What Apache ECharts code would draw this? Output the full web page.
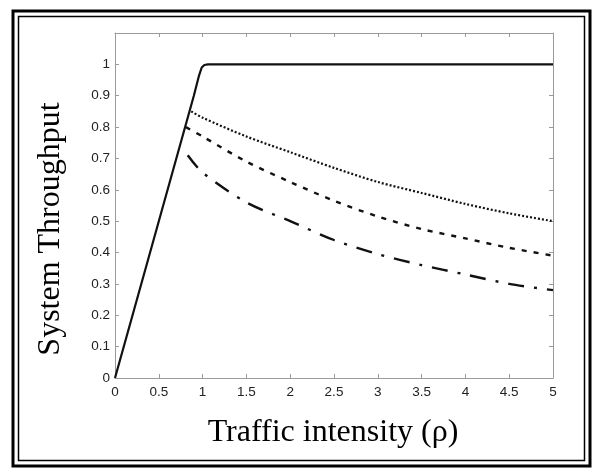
<!DOCTYPE html>
<html>
<head>
<meta charset="utf-8">
<script src="https://cdn.jsdelivr.net/npm/echarts@6/dist/echarts.min.js"></script>
<style>
  html, body { margin: 0; padding: 0; background: #fff; }
  #chart { width: 594px; height: 469px; }
</style>
</head>
<body>
<div id="chart"></div>
<script>
// values
const xTicks = [0, 0.5, 1, 1.5, 2, 2.5, 3, 3.5, 4, 4.5, 5];
const yTicks = [0, 0.1, 0.2, 0.3, 0.4, 0.5, 0.6, 0.7, 0.8, 0.9, 1];

const rhoSolid = [0, 0.5, 0.9, 0.96, 0.99, 1.02, 1.06, 2, 3, 4, 5];
const thrSolid = [0, 0.5, 0.9, 0.965, 0.99, 0.998, 1.0, 1.0, 1.0, 1.0, 1.0];

const rhoDotted = [0.87, 1, 1.5, 2, 2.5, 3, 3.5, 4, 4.5, 5];
const thrDotted = [0.85, 0.83, 0.77, 0.72, 0.67, 0.625, 0.59, 0.555, 0.525, 0.5];

const rhoDashed = [0.81, 1, 1.5, 2, 2.5, 3, 3.5, 4, 4.5, 5];
const thrDashed = [0.80, 0.77, 0.69, 0.625, 0.565, 0.515, 0.475, 0.445, 0.415, 0.39];

const rhoDashDot = [0.83, 1, 1.5, 2, 2.5, 3, 3.5, 4, 4.5, 5];
const thrDashDot = [0.71, 0.655, 0.56, 0.5, 0.44, 0.395, 0.36, 0.33, 0.3, 0.28];

const zip = (xs, ys) => xs.map((x, i) => [x, ys[i]]);

const chart = echarts.init(document.getElementById('chart'), null, { renderer: 'canvas' });

const tickFont = { color: '#222', fontSize: 13.5, fontFamily: 'Liberation Sans, Arial, sans-serif' };
const axisGray = '#9a9a9a';
const serif = '32px "Liberation Serif", "Times New Roman", serif';

const boxAxis = (extra) => Object.assign({
  type: 'value',
  axisLine: { show: true, onZero: false, lineStyle: { color: axisGray, width: 1 } },
  axisTick: { show: true, inside: true, length: 4, lineStyle: { color: axisGray } },
  splitLine: { show: false },
}, extra);

const curve = (data, type, width, smooth) => ({
  type: 'line',
  data: data,
  showSymbol: false,
  smooth: smooth,
  lineStyle: { color: '#111', width: width, type: type },
  silent: true,
  animation: false,
});

chart.setOption({
  backgroundColor: '#fff',
  animation: false,
  grid: { left: 115, right: 41, top: 33, bottom: 91 },
  xAxis: [
    boxAxis({
      min: 0, max: 5, interval: 0.5,
      axisLabel: Object.assign({ margin: 7, formatter: (v) => String(v) }, tickFont),
    }),
    boxAxis({ min: 0, max: 5, interval: 0.5, position: 'top', axisLabel: { show: false } }),
  ],
  yAxis: [
    boxAxis({
      min: 0, max: 1.1, interval: 0.1,
      axisLabel: Object.assign({
        margin: 5,
        formatter: (v) => (v > 1.001 ? '' : String(Math.round(v * 10) / 10)),
      }, tickFont),
    }),
    boxAxis({ min: 0, max: 1.1, interval: 0.1, position: 'right', axisLabel: { show: false } }),
  ],
  graphic: [
    { type: 'rect', shape: { x: 13, y: 11, width: 577, height: 455 },
      style: { fill: 'none', stroke: '#000', lineWidth: 3 } },
    { type: 'rect', shape: { x: 18.5, y: 16.5, width: 566, height: 444 },
      style: { fill: 'none', stroke: '#000', lineWidth: 1.5 } },
    { type: 'text', x: 51, y: 229, rotation: Math.PI / 2,
      style: { text: 'System Throughput', fill: '#000', font: serif,
               textAlign: 'center', textVerticalAlign: 'middle' } },
    { type: 'text', x: 333, y: 433,
      style: { text: 'Traffic intensity (ρ)', fill: '#000', font: serif,
               textAlign: 'center', textVerticalAlign: 'middle' } },
  ],
  series: [
    curve(zip(rhoSolid, thrSolid), 'solid', 2.2, false),
    curve(zip(rhoDotted, thrDotted), [2, 2], 2.2, 0.3),
    curve(zip(rhoDashed, thrDashed), [5, 7], 2.4, 0.3),
    curve(zip(rhoDashDot, thrDashDot), [16, 10, 3, 10], 2.4, 0.3),
  ],
});

window.addEventListener('resize', () => chart.resize());
</script>
</body>
</html>
